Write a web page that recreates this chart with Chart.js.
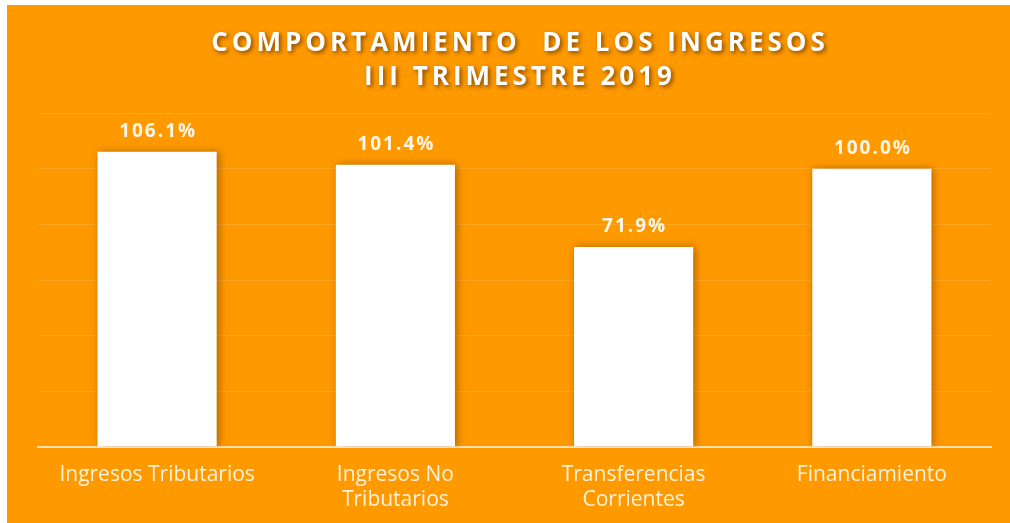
<!DOCTYPE html>
<html>
<head>
<meta charset="utf-8">
<script src="https://cdn.jsdelivr.net/npm/chart.js@4.4.1/dist/chart.umd.min.js"></script>
<style>
  html, body { margin: 0; background: #ffffff; overflow: hidden; }
  #caja {
    position: absolute; left: 7px; top: 5px;
    width: 1003px; height: 518px;
    background: #fe9900;
  }
</style>
</head>
<body>
<div id="caja"><canvas id="graficoIngresos"></canvas></div>
<script>
// datos del grafico
const categorias = [
  ['Ingresos Tributarios'],
  ['Ingresos No', 'Tributarios'],
  ['Transferencias', 'Corrientes'],
  ['Financiamiento']
];
const porcentajes = [106.1, 101.4, 71.9, 100.0];
const tituloLineas = ['COMPORTAMIENTO  DE LOS INGRESOS', 'III TRIMESTRE 2019'];
const ejeMax = 120;
const ejePaso = 20;

// titulo con espaciado y sombra
const pluginTitulo = {
  id: 'pluginTitulo',
  afterDraw(chart) {
    const ctx = chart.ctx;
    ctx.save();
    ctx.font = 'bold 26px "Open Sans"';
    ctx.letterSpacing = '4px';
    ctx.fillStyle = '#ffffff';
    ctx.textAlign = 'center';
    ctx.textBaseline = 'middle';
    ctx.shadowColor = 'rgba(90,45,0,0.75)';
    ctx.shadowBlur = 4;
    ctx.shadowOffsetX = 2;
    ctx.shadowOffsetY = 2;
    ctx.fillText(tituloLineas[0], 513, 39);
    ctx.fillText(tituloLineas[1], 513, 73);
    ctx.restore();
  }
};

// sombra de las barras
const pluginSombra = {
  id: 'pluginSombra',
  beforeDatasetsDraw(chart) {
    const ctx = chart.ctx;
    ctx.save();
    ctx.shadowColor = 'rgba(110,55,0,0.55)';
    ctx.shadowBlur = 8;
    ctx.shadowOffsetX = 2;
    ctx.shadowOffsetY = 0;
  },
  afterDatasetsDraw(chart) {
    chart.ctx.restore();
    // etiquetas de valor encima de cada barra
    const ctx = chart.ctx;
    const meta = chart.getDatasetMeta(0);
    ctx.save();
    ctx.font = 'bold 19px "Open Sans"';
    ctx.letterSpacing = '2px';
    ctx.fillStyle = '#fff6e8';
    ctx.textAlign = 'center';
    ctx.textBaseline = 'bottom';
    meta.data.forEach((barra, i) => {
      ctx.fillText(porcentajes[i].toFixed(1) + '%', barra.x + 1, barra.y - 11);
    });
    ctx.restore();
  }
};

new Chart(document.getElementById('graficoIngresos'), {
  type: 'bar',
  data: {
    labels: categorias,
    datasets: [{
      data: porcentajes,
      backgroundColor: '#ffffff',
      borderWidth: 0,
      categoryPercentage: 1.0,
      barPercentage: 0.5
    }]
  },
  options: {
    responsive: true,
    maintainAspectRatio: false,
    animation: false,
    layout: { padding: { top: 108, left: 31, right: 19, bottom: 0 } },
    plugins: {
      legend: { display: false },
      title: { display: false },
      tooltip: { enabled: false }
    },
    scales: {
      x: {
        grid: { display: false, drawTicks: false },
        border: { display: true, color: 'rgba(255,235,200,0.85)', width: 2 },
        ticks: {
          color: '#fff1da',
          font: { family: 'Open Sans', size: 21, lineHeight: 1.22 },
          padding: 15,
          maxRotation: 0
        },
        afterFit(eje) { eje.height = 76; }
      },
      y: {
        min: 0,
        max: ejeMax,
        ticks: { display: false, stepSize: ejePaso },
        grid: { color: 'rgba(255,255,255,0.13)', lineWidth: 1, drawTicks: false },
        border: { display: false }
      }
    }
  },
  plugins: [pluginSombra, pluginTitulo]
});
</script>
</body>
</html>
